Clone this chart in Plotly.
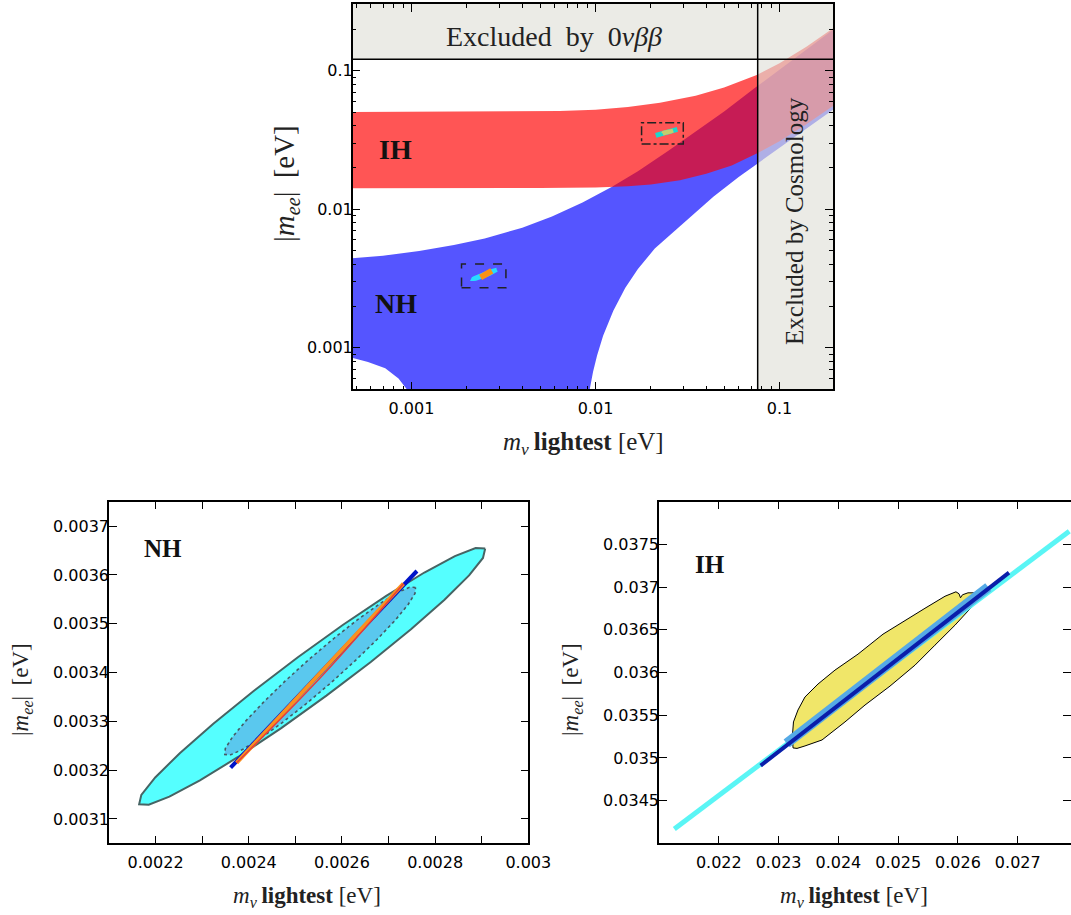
import math
import plotly.graph_objects as go

# ---------------- top panel (log-log) data ----------------
nh_up_x = [0.00045, 0.0007, 0.0011, 0.0017, 0.0025, 0.004, 0.0058, 0.0085, 0.0123, 0.017, 0.025, 0.035, 0.05, 0.0752, 0.12, 0.21]
nh_up_y = [0.00440, 0.00462, 0.00500, 0.00552, 0.00615, 0.00735, 0.00885, 0.0112, 0.0145, 0.0188, 0.0265, 0.0362, 0.0508, 0.0768, 0.122, 0.212]
nh_lr_x = [0.21, 0.12, 0.0752, 0.06, 0.0437, 0.0288, 0.021, 0.017, 0.0145, 0.0125, 0.011, 0.0102, 0.0097, 0.0093, 0.009, 0.0088]
nh_lr_y = [0.056, 0.033, 0.0214, 0.0171, 0.0123, 0.0076, 0.0052, 0.0037, 0.0027, 0.00185, 0.00122, 0.00088, 0.00067, 0.0005, 0.00038, 0.0003]
nh_ll_x = [0.00112, 0.000945, 0.00085, 0.00072, 0.00058, 0.00045]
nh_ll_y = [0.0003, 0.0005, 0.0006, 0.00071, 0.00079, 0.00086]

ih_up_x = [0.00045, 0.002, 0.005, 0.0064, 0.01, 0.015, 0.0224, 0.035, 0.05, 0.0752, 0.1, 0.14, 0.21]
ih_up_y = [0.0504, 0.0505, 0.0509, 0.0512, 0.0523, 0.0548, 0.0587, 0.066, 0.0755, 0.093, 0.113, 0.149, 0.217]
ih_lo_x = [0.21, 0.14, 0.1, 0.0752, 0.055, 0.04, 0.0288, 0.02, 0.015, 0.01, 0.005, 0.00045]
ih_lo_y = [0.0595, 0.041, 0.031, 0.0252, 0.0207, 0.018, 0.0162, 0.0151, 0.01465, 0.01437, 0.01422, 0.01416]

bb0nu_limit = 0.121
cosmo_limit = 0.0761
outer_lo, outer_hi_x, outer_hi_y = 0.0003, 0.3, 0.4

nh_box_x = [0.00187, 0.00326]
nh_box_y = [0.00271, 0.00402]
ih_box_x = [0.0178, 0.030]
ih_box_y = [0.0296, 0.0421]

# ---------------- NH zoom data ----------------
nh_outer_x = [0.0029075, 0.0028869, 0.0028425, 0.0027769, 0.0026951, 0.0026025, 0.0025054, 0.0024105,
              0.0023239, 0.0022519, 0.0021992, 0.0021694, 0.0021647, 0.0021853, 0.0022296, 0.0022952,
              0.0023771, 0.0024697, 0.0025667, 0.0026619, 0.0027482, 0.0028202, 0.0028729, 0.0029027]
nh_outer_y = [0.0036539, 0.0036549, 0.0036384, 0.0036049, 0.0035569, 0.0034978, 0.0034312, 0.0033622,
              0.0032951, 0.0032347, 0.0031849, 0.0031492, 0.0031300, 0.0031290, 0.0031455, 0.0031790,
              0.0032269, 0.0032861, 0.0033527, 0.0034216, 0.0034888, 0.0035492, 0.0035990, 0.0036347]
nh_inner_x = [0.0027579, 0.0027450, 0.0027191, 0.0026820, 0.0026359, 0.0025843, 0.0025305, 0.0024784,
              0.0024313, 0.0023925, 0.0023647, 0.0023497, 0.0023486, 0.0023614, 0.0023874, 0.0024244,
              0.0024705, 0.0025222, 0.0025759, 0.0026280, 0.0026752, 0.0027139, 0.0027418, 0.0027568]
nh_inner_y = [0.0035743, 0.0035748, 0.0035637, 0.0035414, 0.0035100, 0.0034712, 0.0034278, 0.0033827,
              0.0033388, 0.0032996, 0.0032674, 0.0032443, 0.0032320, 0.0032314, 0.0032427, 0.0032649,
              0.0032963, 0.0033351, 0.0033786, 0.0034237, 0.0034676, 0.0035067, 0.0035390, 0.0035620]
nh_blue_x = [0.002361, 0.002761]
nh_blue_y = [0.003205, 0.003608]
nh_orange_x = [0.002374, 0.002732]
nh_orange_y = [0.003215, 0.003582]
nh_red_x = [0.002374, 0.002558, 0.002732]
nh_red_y = [0.003215, 0.003394, 0.003582]

# ---------------- IH zoom data ----------------
ih_cyan_x = [0.021256, 0.027861]
ih_cyan_y = [0.034167, 0.037655]
ih_band_x = [0.023135, 0.026507]
ih_band_y = [0.035170, 0.037000]
ih_blue_x = [0.0227, 0.026853]
ih_blue_y = [0.034910, 0.037169]
ih_yel_x = [0.023241, 0.023232, 0.023249, 0.023324, 0.023441, 0.023659, 0.023943, 0.024328, 0.024746,
            0.025114, 0.025448, 0.025783, 0.025966, 0.026017, 0.026042, 0.026075, 0.026167, 0.026318,
            0.026368, 0.026301, 0.026167, 0.025950, 0.025615, 0.025281, 0.024863, 0.024445, 0.024110,
            0.023726, 0.023441, 0.023308]
ih_yel_y = [0.035117, 0.035269, 0.035421, 0.035561, 0.035713, 0.035865, 0.036028, 0.036215, 0.036449,
            0.036612, 0.036752, 0.036893, 0.036945, 0.036922, 0.036875, 0.036910, 0.036933, 0.036933,
            0.036904, 0.036822, 0.036717, 0.036554, 0.036320, 0.036086, 0.035841, 0.035619, 0.035421,
            0.035210, 0.035140, 0.035111]

# ---------------- ticks ----------------
top_major = [0.001, 0.01, 0.1]
top_major_txt = ["0.001", "0.01", "0.1"]
top_minor = [m * d for d in (0.0001, 0.001, 0.01, 0.1) for m in range(2, 10)]

bl_xt = [0.0022, 0.0023, 0.0024, 0.0025, 0.0026, 0.0027, 0.0028, 0.0029, 0.0030]
bl_xt_txt = ["0.0022", "", "0.0024", "", "0.0026", "", "0.0028", "", "0.003"]
bl_yt = [0.0031, 0.0032, 0.0033, 0.0034, 0.0035, 0.0036, 0.0037]
bl_yt_txt = ["0.0031", "0.0032", "0.0033", "0.0034", "0.0035", "0.0036", "0.0037"]
br_xt = [0.022, 0.023, 0.024, 0.025, 0.026, 0.027]
br_xt_txt = ["0.022", "0.023", "0.024", "0.025", "0.026", "0.027"]
br_yt = [0.0345, 0.035, 0.0355, 0.036, 0.0365, 0.037, 0.0375]
br_yt_txt = ["0.0345", "0.035", "0.0355", "0.036", "0.0365", "0.037", "0.0375"]

W, H = 1071, 915
SERIF = "Liberation Serif"

fig = go.Figure()


def closed(xs, ys):
    return list(xs) + [xs[0]], list(ys) + [ys[0]]


def area(xs, ys, color, xa, ya, line=None):
    cx, cy = closed(xs, ys)
    fig.add_trace(go.Scatter(x=cx, y=cy, mode="lines", fill="toself", fillcolor=color,
                             line=line if line else dict(width=0), xaxis=xa, yaxis=ya,
                             hoverinfo="skip", showlegend=False))


def seg(xs, ys, color, width, xa, ya, dash="solid", shape="linear"):
    fig.add_trace(go.Scatter(x=xs, y=ys, mode="lines", line=dict(color=color, width=width, dash=dash, shape=shape),
                             xaxis=xa, yaxis=ya, hoverinfo="skip", showlegend=False))


# ---- top panel ----
area(nh_up_x + nh_lr_x + nh_ll_x, nh_up_y + nh_lr_y + nh_ll_y, "rgba(0,0,255,0.667)", "x", "y")
area(ih_up_x + ih_lo_x, ih_up_y + ih_lo_y, "rgba(255,0,0,0.667)", "x", "y")

area(nh_outer_x, nh_outer_y, "rgb(40,220,255)", "x", "y", line=dict(color="rgb(40,220,255)", width=4))
area(nh_inner_x, nh_inner_y, "rgb(90,200,238)", "x", "y")
seg(nh_orange_x, nh_orange_y, "rgb(250,145,20)", 6, "x", "y")
seg(ih_cyan_x, ih_cyan_y, "rgb(30,215,205)", 5, "x", "y")
area(ih_yel_x, ih_yel_y, "rgb(195,205,110)", "x", "y", line=dict(color="rgb(195,205,110)", width=4))
seg(nh_box_x + [nh_box_x[1], nh_box_x[0], nh_box_x[0]],
    [nh_box_y[0], nh_box_y[0], nh_box_y[1], nh_box_y[1], nh_box_y[0]], "#222", 1.5, "x", "y", dash="dash")
seg(ih_box_x + [ih_box_x[1], ih_box_x[0], ih_box_x[0]],
    [ih_box_y[0], ih_box_y[0], ih_box_y[1], ih_box_y[1], ih_box_y[0]], "#222", 1.5, "x", "y", dash="dashdot")

gray = "rgba(224,224,216,0.65)"
area([outer_lo, cosmo_limit, cosmo_limit, outer_lo], [bb0nu_limit, bb0nu_limit, outer_hi_y, outer_hi_y], gray, "x", "y")
area([cosmo_limit, outer_hi_x, outer_hi_x, cosmo_limit], [outer_lo, outer_lo, outer_hi_y, outer_hi_y], gray, "x", "y")
seg([outer_lo, outer_hi_x], [bb0nu_limit, bb0nu_limit], "black", 1.5, "x", "y")
seg([cosmo_limit, cosmo_limit], [outer_lo, outer_hi_y], "black", 1.5, "x", "y")

# ---- NH zoom ----
area(nh_outer_x, nh_outer_y, "rgb(85,255,255)", "x2", "y2", line=dict(color="rgb(70,100,100)", width=2))
area(nh_inner_x, nh_inner_y, "rgb(90,200,238)", "x2", "y2", line=dict(color="rgb(70,90,100)", width=1.6, dash="dot"))
seg(nh_blue_x, nh_blue_y, "rgb(0,20,200)", 4, "x2", "y2")
seg(nh_orange_x, nh_orange_y, "rgb(250,145,30)", 4, "x2", "y2")
seg(nh_red_x, nh_red_y, "rgb(230,60,60)", 1.5, "x2", "y2", shape="spline")

# ---- IH zoom ----
area(ih_yel_x, ih_yel_y, "rgb(240,230,105)", "x3", "y3", line=dict(color="black", width=1))
seg(ih_cyan_x, ih_cyan_y, "rgb(90,245,245)", 5, "x3", "y3")
seg(ih_band_x, ih_band_y, "rgb(85,170,230)", 10, "x3", "y3")
seg(ih_blue_x, ih_blue_y, "rgb(10,30,170)", 4, "x3", "y3")

# ---- axes ----
tickfont = dict(family="DejaVu Sans", size=16, color="black")
common = dict(showline=True, linecolor="black", linewidth=1.5, mirror="ticks", ticks="inside",
              ticklen=8, tickwidth=1, tickcolor="black", showgrid=False, zeroline=False,
              tickfont=tickfont, tickmode="array")
minor = dict(tickmode="array", tickvals=top_minor, ticks="inside", ticklen=4, tickwidth=1, tickcolor="black")
XS, YS = 4, -5

fig.update_layout(
    width=W, height=H, autosize=False, margin=dict(l=0, r=0, t=0, b=0, autoexpand=False),
    paper_bgcolor="white", plot_bgcolor="white", showlegend=False, hovermode=False,
    xaxis=dict(common, type="log", domain=[352.7 / W, 833 / W], range=[-3.31957, -0.70924],
               tickvals=top_major, ticktext=top_major_txt, minor=minor, anchor="y", ticklabelstandoff=XS),
    yaxis=dict(common, type="log", domain=[1 - 389.3 / H, 1 - 4 / H], range=[-3.30036, -0.51841],
               tickvals=top_major, ticktext=top_major_txt, minor=minor, anchor="x", ticklabelstandoff=YS),
    xaxis2=dict(common, domain=[109 / W, 528.3 / W], range=[0.0021, 0.0030],
                tickvals=bl_xt, ticktext=bl_xt_txt, anchor="y2", ticklabelstandoff=XS),
    yaxis2=dict(common, domain=[1 - 843.3 / H, 1 - 501.7 / H], range=[0.00305, 0.00375],
                tickvals=bl_yt, ticktext=bl_yt_txt, anchor="x2", ticklabelstandoff=YS),
    xaxis3=dict(common, domain=[659 / W, 1.0], range=[0.021, 0.02789],
                tickvals=br_xt, ticktext=br_xt_txt, anchor="y3", ticklabelstandoff=XS),
    yaxis3=dict(common, domain=[1 - 843.3 / H, 1 - 501.7 / H], range=[0.034, 0.038],
                tickvals=br_yt, ticktext=br_yt_txt, anchor="x3", ticklabelstandoff=YS),
)

L = math.log10
ann = []


def note(x, y, text, size, xref="paper", yref="paper", angle=0, color="#222"):
    ann.append(dict(x=x, y=y, xref=xref, yref=yref, text=text, showarrow=False, textangle=angle,
                    xanchor="center", yanchor="middle", font=dict(family=SERIF, size=size, color=color)))


note(L(0.00082), L(0.0268), "<b>IH</b>", 28, "x", "y", color="#111")
note(L(0.00082), L(0.00209), "<b>NH</b>", 28, "x", "y", color="#111")
note(-2.2255, -0.7495, "Excluded\u00a0 by\u00a0 0<i>νββ</i>", 28, "x", "y")
note(-0.9158, -2.0852, "Excluded by Cosmology", 25, "x", "y", angle=-90)
note(0.0022164, 0.0036545, "<b>NH</b>", 25, "x2", "y2", color="#111")
note(0.021848, 0.03727, "<b>IH</b>", 25, "x3", "y3", color="#111")

xt = "<i>m</i><sub><i>ν</i></sub>\u2009<b>lightest</b> [eV]"
yt = "|<i>m</i><sub><i>ee</i></sub>|\u2009 [eV]"
note(583 / W, 1 - 444 / H, xt, 25)
note(286 / W, 1 - 184 / H, yt, 29, angle=-90)
note(307 / W, 1 - 897 / H, xt, 23)
note(854 / W, 1 - 897 / H, xt, 23)
note(22 / W, 1 - 690 / H, yt, 23, angle=-90)
note(572 / W, 1 - 690 / H, yt, 23, angle=-90)
fig.update_layout(annotations=ann)

post = """
var gd = document.getElementById('{plot_id}');
document.documentElement.style.margin = '0';
document.body.style.margin = '0';
document.body.style.overflow = 'hidden';
Plotly.relayout(gd, {width: 1071, height: 915});
"""
fig.write_html("out.html", config={"responsive": False, "displayModeBar": False}, post_script=post)
